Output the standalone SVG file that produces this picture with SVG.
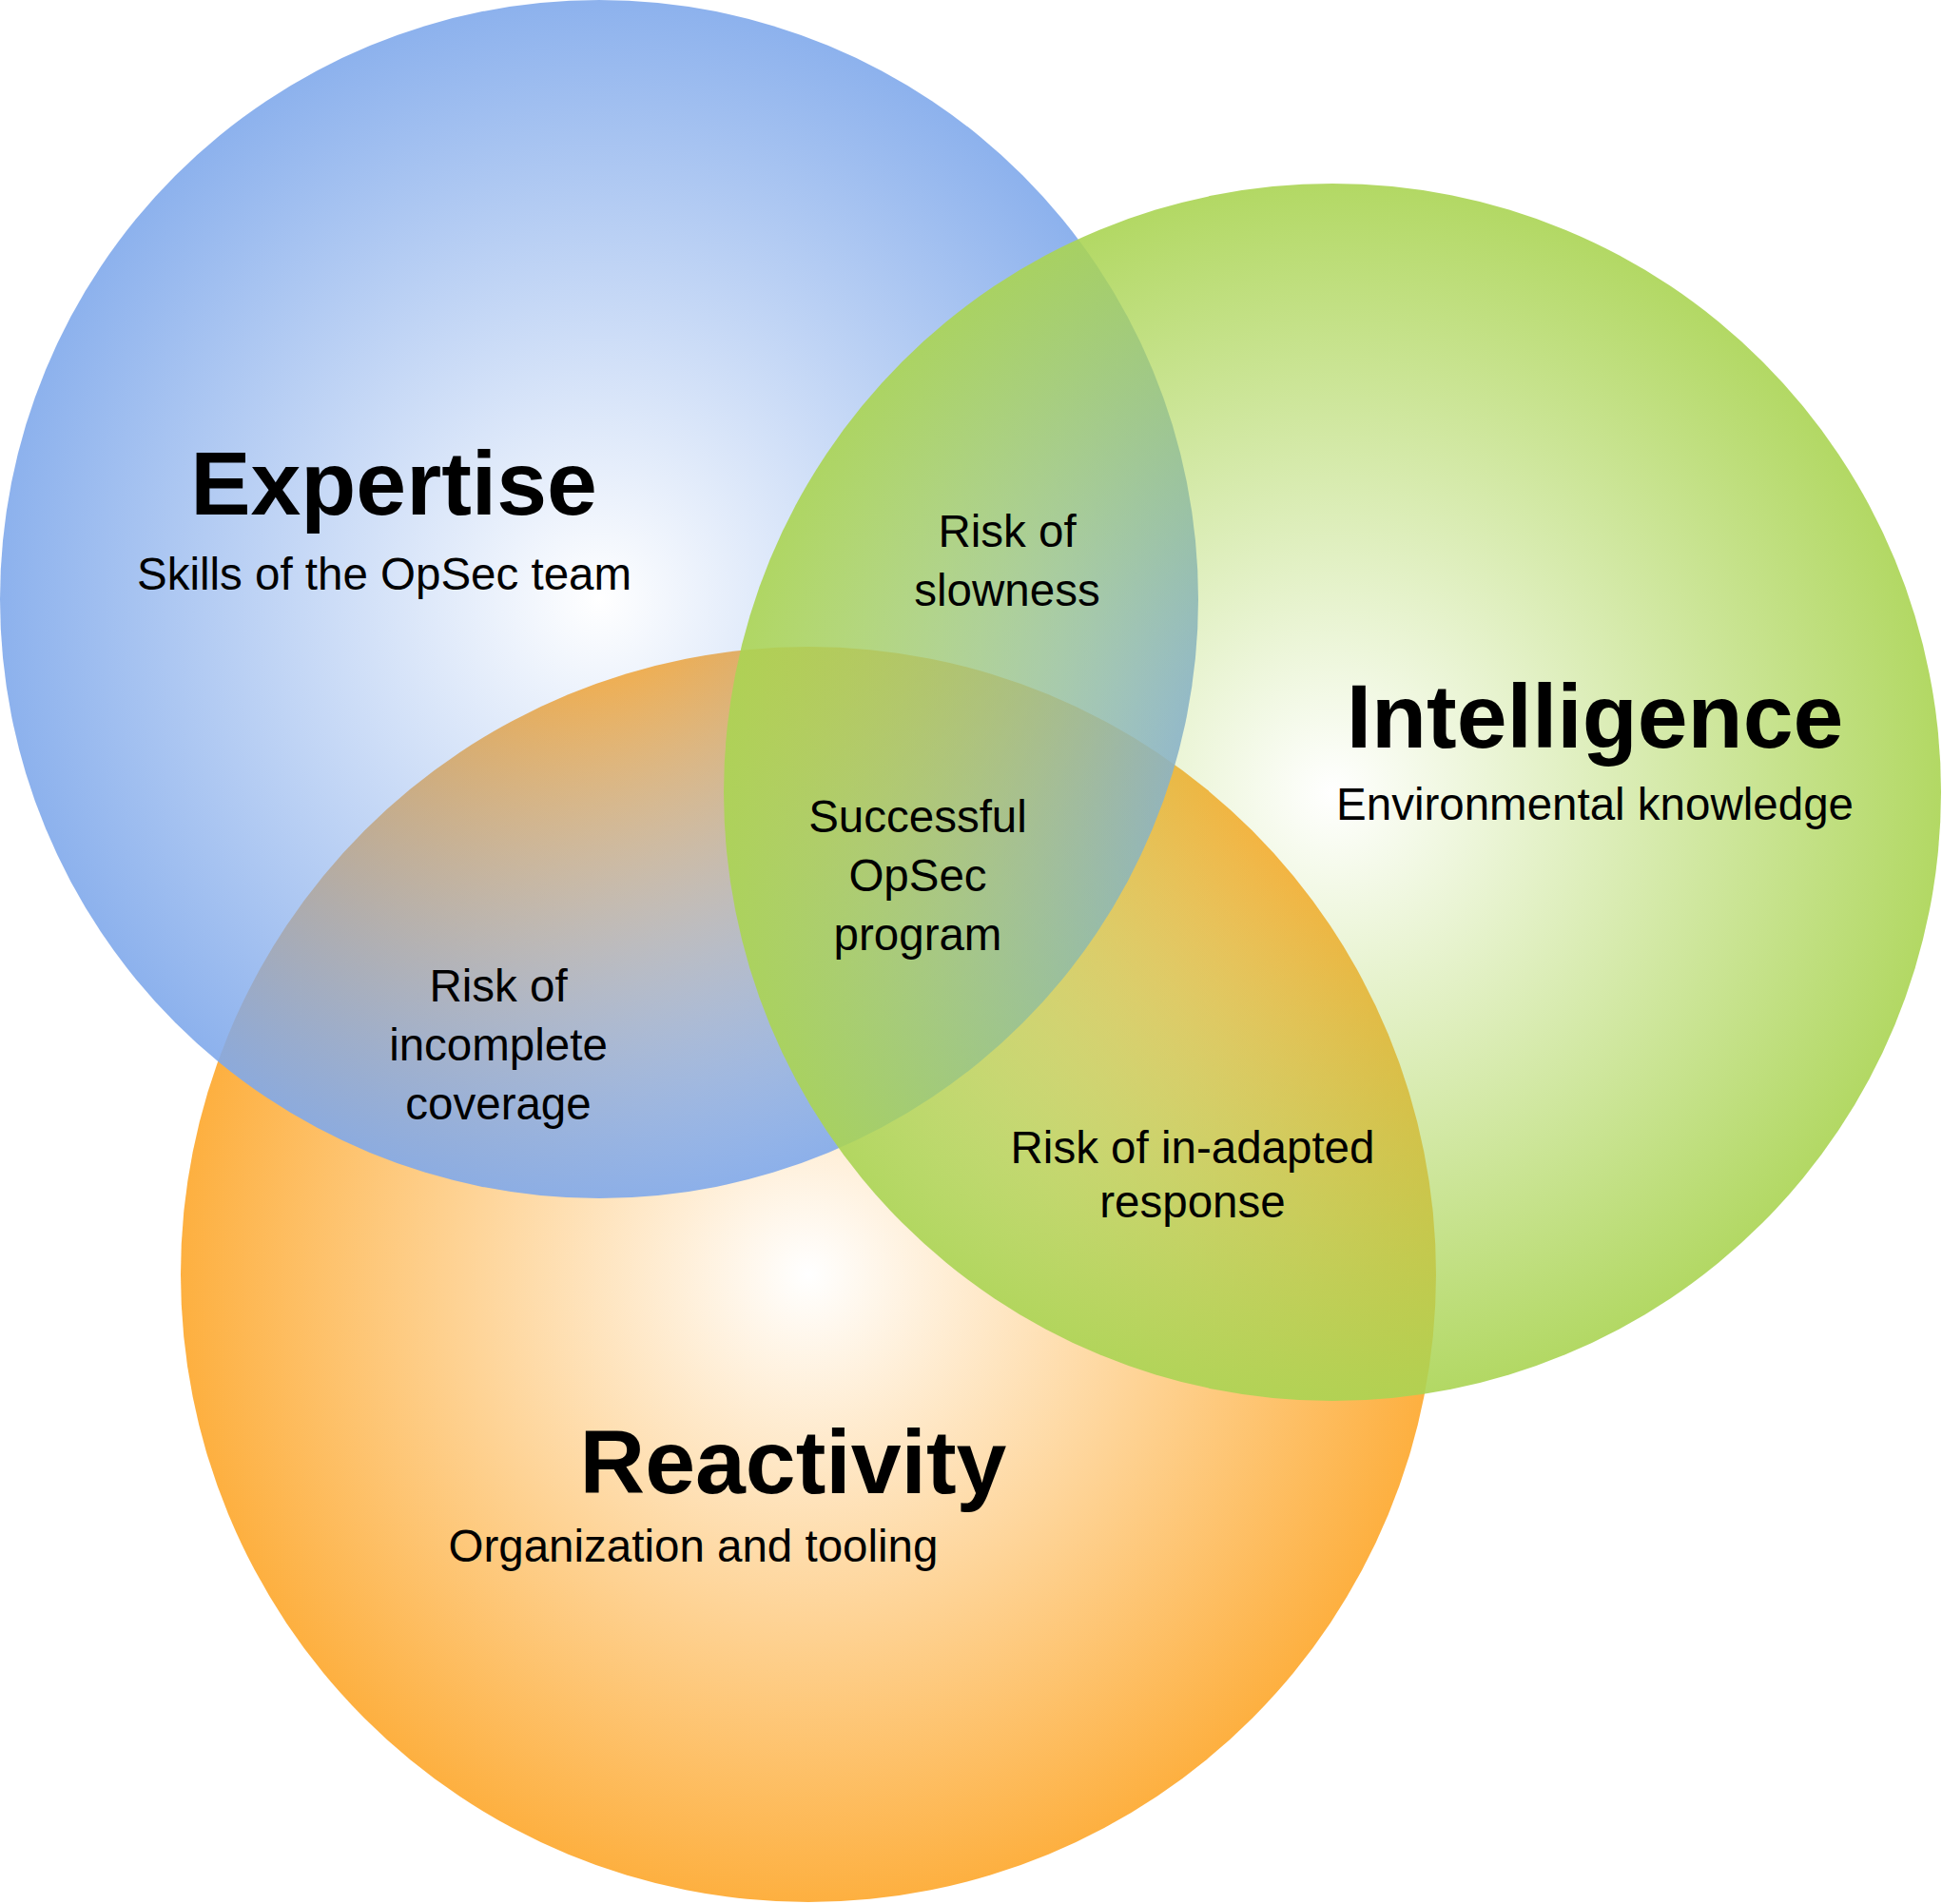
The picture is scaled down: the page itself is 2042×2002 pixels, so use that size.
<svg xmlns="http://www.w3.org/2000/svg" width="2042" height="2002" viewBox="0 0 2042 2002">
<style>
text{font-family:"Liberation Sans",Arial,sans-serif;fill:#000;text-anchor:middle}
.title{font-size:95px;font-weight:bold}
.sub{font-size:47.5px}
.lbl{font-size:47.5px}
</style>
<defs>
<radialGradient id="gBlue" cx="630" cy="630" r="630" gradientUnits="userSpaceOnUse">
<stop offset="0" stop-color="#80a9eb" stop-opacity="0"/>
<stop offset="1" stop-color="#80a9eb" stop-opacity="0.9"/>
</radialGradient>
<radialGradient id="gGreen" cx="1401" cy="833" r="640" gradientUnits="userSpaceOnUse">
<stop offset="0" stop-color="#aad453" stop-opacity="0"/>
<stop offset="1" stop-color="#aad453" stop-opacity="0.9"/>
</radialGradient>
<radialGradient id="gOrange" cx="850" cy="1340" r="660" gradientUnits="userSpaceOnUse">
<stop offset="0" stop-color="#fda72b" stop-opacity="0"/>
<stop offset="1" stop-color="#fda72b" stop-opacity="0.9"/>
</radialGradient>
</defs>
<rect width="2042" height="2002" fill="#fff"/>
<g id="reactivity">
<circle cx="850" cy="1340" r="660" fill="url(#gOrange)"/>
</g>
<g id="expertise">
<circle cx="630" cy="630" r="630" fill="url(#gBlue)"/>
</g>
<g id="intelligence">
<circle cx="1401" cy="833" r="640" fill="url(#gGreen)"/>
</g>
<g id="labels-expertise">
<text class="title" x="414" y="541">Expertise</text>
<text class="sub" x="404" y="620">Skills of the OpSec team</text>
</g>
<g id="labels-intelligence">
<text class="title" x="1677" y="786">Intelligence</text>
<text class="sub" x="1677" y="862">Environmental knowledge</text>
</g>
<g id="labels-reactivity">
<text class="title" x="834" y="1570">Reactivity</text>
<text class="sub" x="729" y="1642">Organization and tooling</text>
</g>
<g id="risk-slowness">
<text class="lbl" x="1059" y="575">Risk of</text>
<text class="lbl" x="1059" y="637">slowness</text>
</g>
<g id="successful-opsec">
<text class="lbl" x="965" y="875">Successful</text>
<text class="lbl" x="965" y="937">OpSec</text>
<text class="lbl" x="965" y="999">program</text>
</g>
<g id="risk-incomplete">
<text class="lbl" x="524" y="1053">Risk of</text>
<text class="lbl" x="524" y="1115">incomplete</text>
<text class="lbl" x="524" y="1177">coverage</text>
</g>
<g id="risk-inadapted">
<text class="lbl" x="1254" y="1223">Risk of in-adapted</text>
<text class="lbl" x="1254" y="1280">response</text>
</g>
</svg>
